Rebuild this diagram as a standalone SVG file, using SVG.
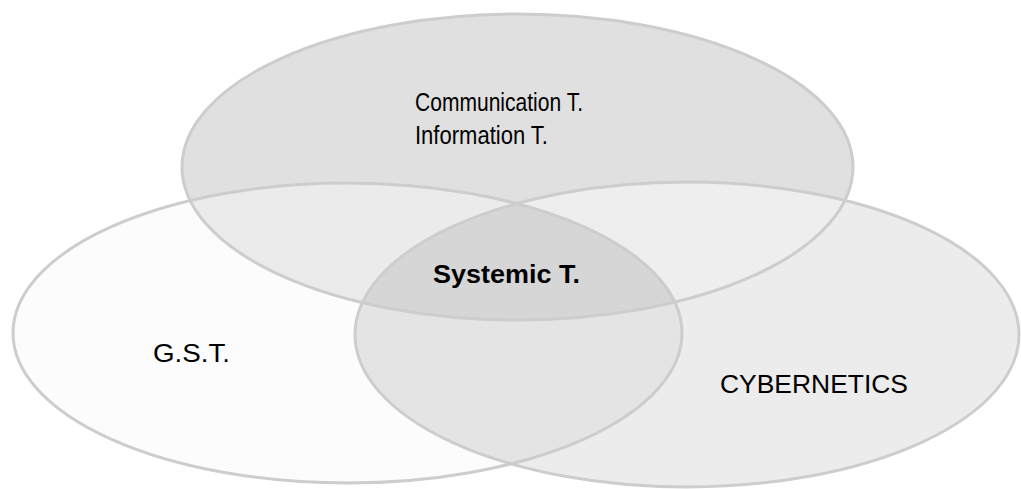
<svg xmlns="http://www.w3.org/2000/svg" width="1021" height="489" viewBox="0 0 1021 489">
  <style>
    .outline { fill: none; stroke: #cdcdcd; stroke-width: 3; }
    .lbl { font-family: "Liberation Sans", Arial, sans-serif; font-size: 25px; fill: #000; }
    .bold { font-weight: bold; }
  </style>
  <defs>
    <clipPath id="cTop"><ellipse cx="517.5" cy="167" rx="335.5" ry="153"/></clipPath>
    <clipPath id="cLeft"><ellipse cx="347.5" cy="333" rx="334.5" ry="150"/></clipPath>
    <clipPath id="cRight"><ellipse cx="687" cy="334.5" rx="332" ry="152.5"/></clipPath>
  </defs>
  <rect width="1021" height="489" fill="#ffffff"/>
  <g id="fills">
    <ellipse cx="517.5" cy="167" rx="335.5" ry="153" fill="#e0e0e0"/>
    <ellipse cx="347.5" cy="333" rx="334.5" ry="150" fill="#fcfcfc"/>
    <ellipse cx="687" cy="334.5" rx="332" ry="152.5" fill="#ececec"/>
    <ellipse cx="517.5" cy="167" rx="335.5" ry="153" fill="#ebebeb" clip-path="url(#cLeft)"/>
    <ellipse cx="517.5" cy="167" rx="335.5" ry="153" fill="#eeeeee" clip-path="url(#cRight)"/>
    <ellipse cx="347.5" cy="333" rx="334.5" ry="150" fill="#e4e4e4" clip-path="url(#cRight)"/>
    <g clip-path="url(#cRight)">
      <ellipse cx="517.5" cy="167" rx="335.5" ry="153" fill="#d6d6d6" clip-path="url(#cLeft)"/>
    </g>
  </g>
  <g id="communication">
    <ellipse class="outline" cx="517.5" cy="167" rx="335.5" ry="153"/>
    <text class="lbl" x="415" y="111" textLength="168" lengthAdjust="spacingAndGlyphs">Communication T.</text>
    <text class="lbl" x="415" y="144" textLength="133" lengthAdjust="spacingAndGlyphs">Information T.</text>
  </g>
  <g id="gst">
    <ellipse class="outline" cx="347.5" cy="333" rx="334.5" ry="150"/>
    <text class="lbl" x="153" y="362" textLength="77" lengthAdjust="spacingAndGlyphs">G.S.T.</text>
  </g>
  <g id="cybernetics">
    <ellipse class="outline" cx="687" cy="334.5" rx="332" ry="152.5"/>
    <text class="lbl" x="720" y="393" textLength="188" lengthAdjust="spacingAndGlyphs">CYBERNETICS</text>
  </g>
  <g id="systemic">
    <text class="lbl bold" x="433" y="283" textLength="147" lengthAdjust="spacingAndGlyphs">Systemic T.</text>
  </g>
</svg>
